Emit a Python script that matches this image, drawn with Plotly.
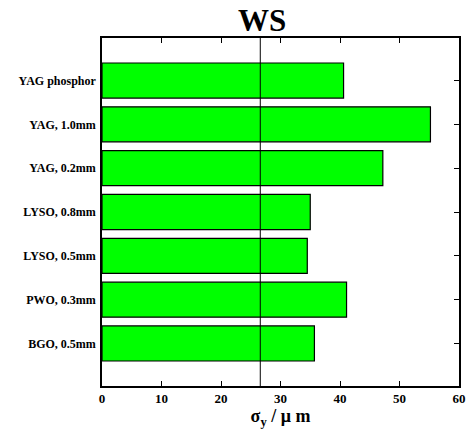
import plotly.graph_objects as go

categories = ["BGO, 0.5mm", "PWO, 0.3mm", "LYSO, 0.5mm", "LYSO, 0.8mm",
              "YAG, 0.2mm", "YAG, 1.0mm", "YAG phosphor"]
sigma_y = [35.7, 41.1, 34.5, 35.0, 47.2, 55.2, 40.6]
reference_value = 26.6
x_ticks = [0, 10, 20, 30, 40, 50, 60]

FONT = "Liberation Serif, Times New Roman, Times, serif"

fig = go.Figure()
fig.add_trace(go.Bar(
    x=sigma_y, y=categories, orientation="h",
    marker=dict(color="#00ff00", line=dict(color="black", width=1.2)),
    width=0.8, showlegend=False, hoverinfo="skip",
))
fig.add_trace(go.Scatter(x=[None], y=[None], yaxis="y2", showlegend=False))

fig.add_shape(type="line", x0=reference_value, x1=reference_value,
              y0=0, y1=1, xref="x", yref="paper",
              line=dict(color="black", width=1), layer="above")

plot_w = 468 - 102 - 9
plot_h = 439 - 38 - 53

fig.update_layout(
    width=468, height=439,
    margin=dict(l=102, r=9, t=38, b=53, autoexpand=False),
    paper_bgcolor="white", plot_bgcolor="white",
    font=dict(family=FONT, color="black"),
    xaxis=dict(
        range=[0, 60], tickvals=x_ticks, ticks="inside", ticklen=5,
        tickwidth=1, tickcolor="black",
        showline=True, linecolor="black", linewidth=1.5, mirror="ticks",
        showgrid=False, zeroline=False, automargin=False,
        tickfont=dict(family=FONT, size=13, color="black", weight="bold"),
        title=dict(text="<b>σ<sub>y</sub> / μ m</b>",
                   font=dict(family=FONT, size=18, color="black"), standoff=4),
    ),
    yaxis=dict(
        type="category", categoryorder="array", categoryarray=categories,
        range=[-0.97, 6.97], ticks="", showline=True, linecolor="black",
        linewidth=1.5, mirror=True, showgrid=False, zeroline=False,
        automargin=False,
        tickfont=dict(family=FONT, size=12, color="black", weight="bold"),
        ticklabelstandoff=2,
    ),
    yaxis2=dict(
        overlaying="y", side="right", range=[-0.97, 6.97],
        tickvals=list(range(len(categories))), ticks="inside", ticklen=5,
        tickcolor="black", showticklabels=False, showgrid=False,
        zeroline=False, showline=False, automargin=False,
    ),
    annotations=[dict(
        text="<b>WS</b>", x=(262 - 102) / plot_w, y=(386 - 21) / plot_h,
        xref="paper", yref="paper",
        showarrow=False, font=dict(family=FONT, size=31, color="black"),
        xanchor="center", yanchor="middle",
    )],
)

fig.write_html("out.html", config={"displayModeBar": False},
               post_script="document.body.style.margin='0';")
